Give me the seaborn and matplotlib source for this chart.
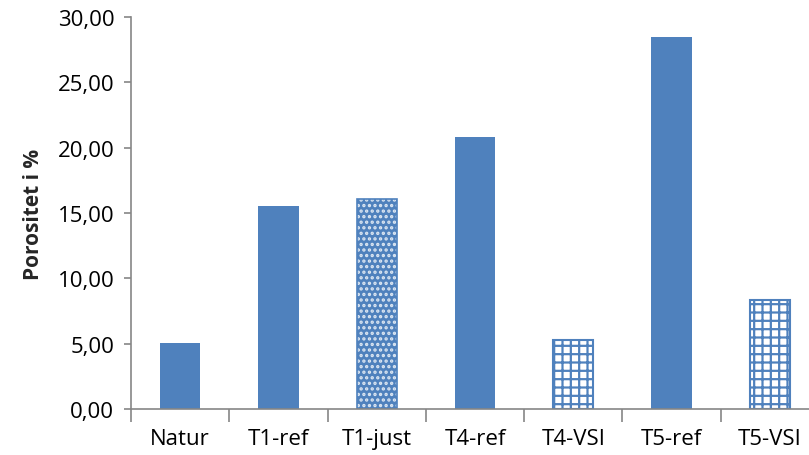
import matplotlib
matplotlib.use("Agg")
import matplotlib.pyplot as plt
from matplotlib.ticker import FuncFormatter, MultipleLocator, FixedLocator
import seaborn as sns
import pandas as pd

categories = ["Natur", "T1-ref", "T1-just", "T4-ref", "T4-VSI", "T5-ref", "T5-VSI"]
porositet = [5.05, 15.53, 16.07, 20.81, 5.28, 28.46, 8.35]
# fill style per bar: solid, dotted weave, or grid
styles = ["solid", "solid", "dots", "solid", "grid", "solid", "grid"]

BLUE = "#4F81BD"
GRAY = "#868686"

sns.set_theme(style="white")
plt.rcParams["font.family"] = ["Open Sans", "DejaVu Sans"]
plt.rcParams["hatch.linewidth"] = 1.6

df = pd.DataFrame({"kategori": categories, "porositet": porositet})

fig = plt.figure(figsize=(8.09, 4.56), dpi=100)
ax = fig.add_axes([131 / 809, 46 / 456, (819 - 131) / 809, (410 - 18) / 456])

sns.barplot(data=df, x="kategori", y="porositet", color=BLUE, saturation=1,
            width=0.41, ax=ax)

for patch, style in zip(ax.patches, styles):
    if style == "dots":
        patch.set_facecolor(BLUE)
        patch.set_edgecolor("#DCE6F2")
        patch.set_linewidth(0)
        patch.set_hatch("...")
        x, y = patch.get_xy()
        ax.add_patch(plt.Rectangle((x, y), patch.get_width(), patch.get_height(),
                                   fill=False, edgecolor=BLUE, linewidth=1.2))
    elif style == "grid":
        patch.set_facecolor("white")
        patch.set_edgecolor(BLUE)
        patch.set_linewidth(1.5)
        patch.set_hatch("++")
    else:
        patch.set_edgecolor(BLUE)
        patch.set_linewidth(0)

ax.set_ylim(0, 30)
ax.set_xlim(-0.5, len(categories) - 0.5)
ax.yaxis.set_major_locator(MultipleLocator(5))
ax.yaxis.set_major_formatter(FuncFormatter(lambda v, p: f"{v:.2f}".replace(".", ",")))

ax.set_xlabel("")
ax.set_ylabel("Porositet i %", fontsize=15, fontweight="bold", labelpad=10)

for side in ["top", "right"]:
    ax.spines[side].set_visible(False)
for side in ["left", "bottom"]:
    ax.spines[side].set_color(GRAY)
    ax.spines[side].set_linewidth(1.2)

ax.tick_params(axis="y", which="major", direction="out", length=5, width=1.2,
               color=GRAY, labelsize=16, labelcolor="black", left=True, pad=7)
ax.tick_params(axis="x", which="major", length=0, labelsize=16, labelcolor="black", pad=14)
ax.xaxis.set_minor_locator(FixedLocator([i - 0.5 for i in range(len(categories) + 1)]))
ax.tick_params(axis="x", which="minor", direction="out", length=9, width=1.2,
               color=GRAY, bottom=True)

fig.savefig("out.png", dpi=100)
